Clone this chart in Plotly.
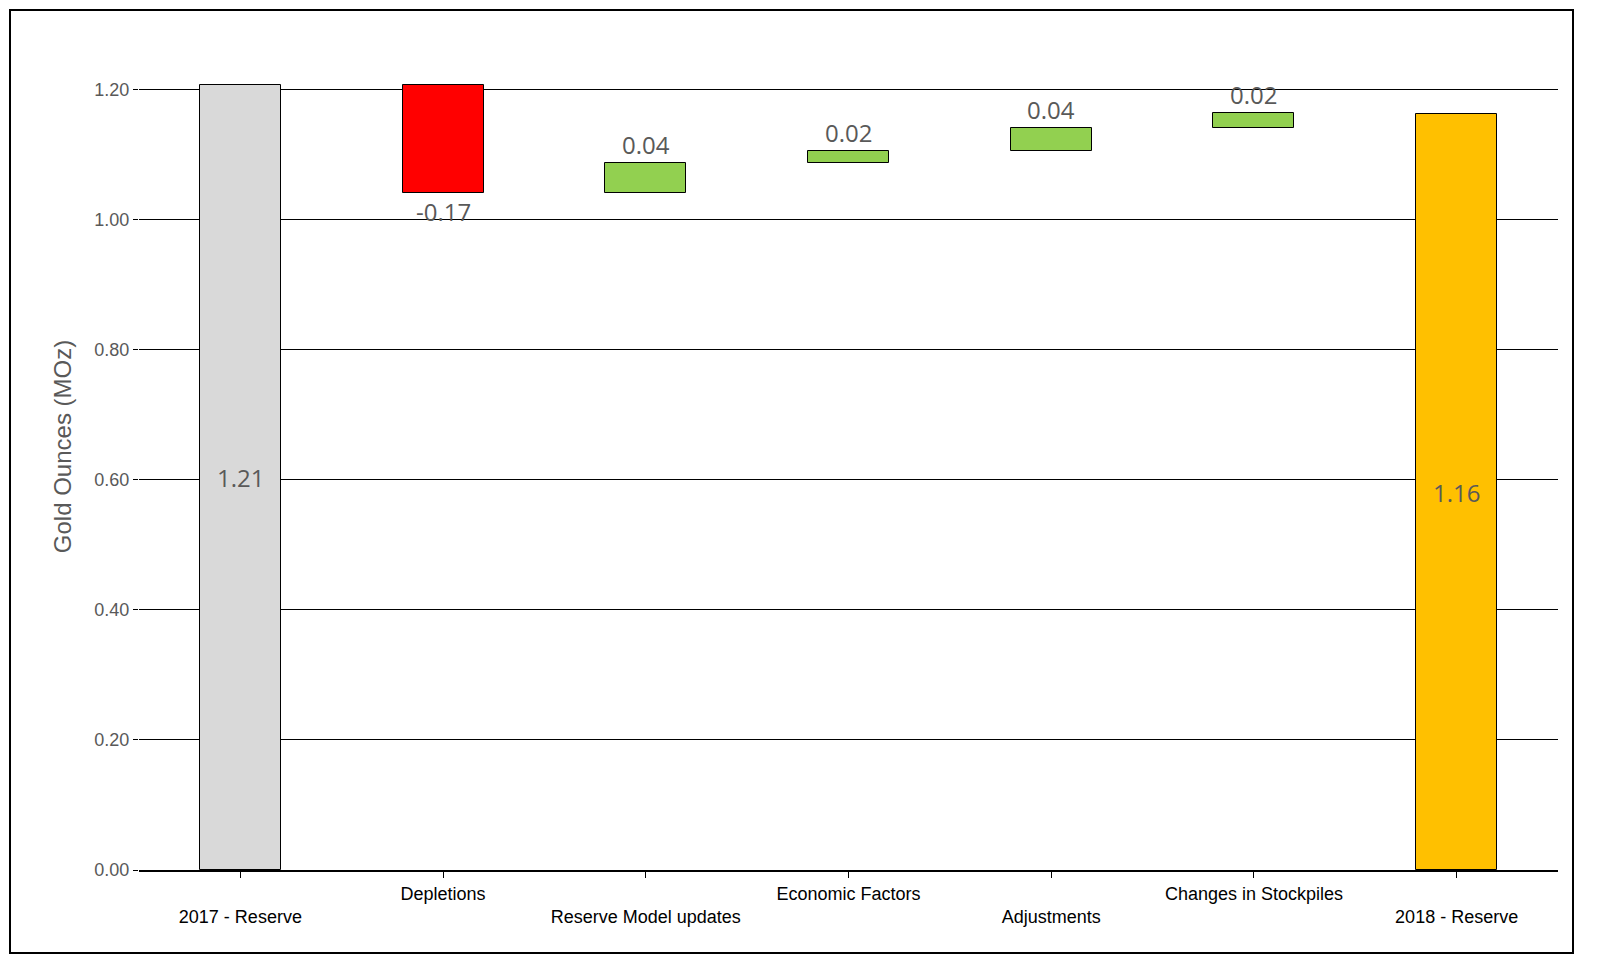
import plotly.graph_objects as go

categories = ["2017 - Reserve", "Depletions", "Reserve Model updates", "Economic Factors",
              "Adjustments", "Changes in Stockpiles", "2018 - Reserve"]
values = [1.208, -0.166, 0.045, 0.019, 0.036, 0.022, 1.163]
labels = ["1.21", "-0.17", "0.04", "0.02", "0.04", "0.02", "1.16"]
colors = ["#d9d9d9", "#ff0000", "#92d050", "#92d050", "#92d050", "#92d050", "#ffc000"]

# floating bases for the step bars
bases = []
running = 0
for i, v in enumerate(values):
    if i == 0 or i == len(values) - 1:
        bases.append(0)
        running = v if i == 0 else running
    else:
        bases.append(running)
        running += v

fig = go.Figure()
fig.add_trace(go.Bar(
    x=list(range(len(categories))), y=values, base=bases,
    marker=dict(color=colors, line=dict(color="black", width=1)),
    width=0.4, hoverinfo="skip",
))

# value labels
for i, v in enumerate(values):
    if i == 0 or i == len(values) - 1:
        y, ya = v / 2, "middle"
    elif v < 0:
        y, ya = bases[i] + v, "top"
    else:
        y, ya = bases[i] + v, "bottom"
    fig.add_annotation(x=i, y=y, text=labels[i], showarrow=False, yanchor=ya,
                       font=dict(size=24, color="#595959", family="Open Sans"), yshift=0)

ticktext = [("<br>" + c) if i % 2 == 0 else c for i, c in enumerate(categories)]

fig.update_xaxes(tickmode="array", tickvals=list(range(len(categories))), ticktext=ticktext,
                 range=[-0.5, 6.5], ticks="outside", tickson="boundaries", ticklen=6,
                 tickcolor="black", showline=True, linecolor="black", linewidth=2,
                 tickfont=dict(size=18, color="black", family="Arial"))
fig.update_yaxes(range=[0, 1.303], tickvals=[0, 0.2, 0.4, 0.6, 0.8, 1.0, 1.2], tickformat=".2f",
                 showgrid=True, gridcolor="black", gridwidth=1, zeroline=False,
                 ticks="outside", ticklen=5, tickcolor="black",
                 tickfont=dict(size=18, color="#595959", family="Arial"),
                 title=dict(text="Gold Ounces (MOz)", font=dict(size=24, color="#595959", family="Arial")))

fig.add_shape(type="rect", xref="paper", yref="paper",
              x0=(2 - 131) / 1419, x1=(1565 - 131) / 1419,
              y0=(862 - 945) / 847, y1=(862 - 2) / 847,
              line=dict(color="black", width=2))

fig.update_layout(width=1600, height=967, plot_bgcolor="white", paper_bgcolor="white",
                  margin=dict(l=131, r=50, t=15, b=105), showlegend=False, bargap=0)

fig.write_html("out.html")
